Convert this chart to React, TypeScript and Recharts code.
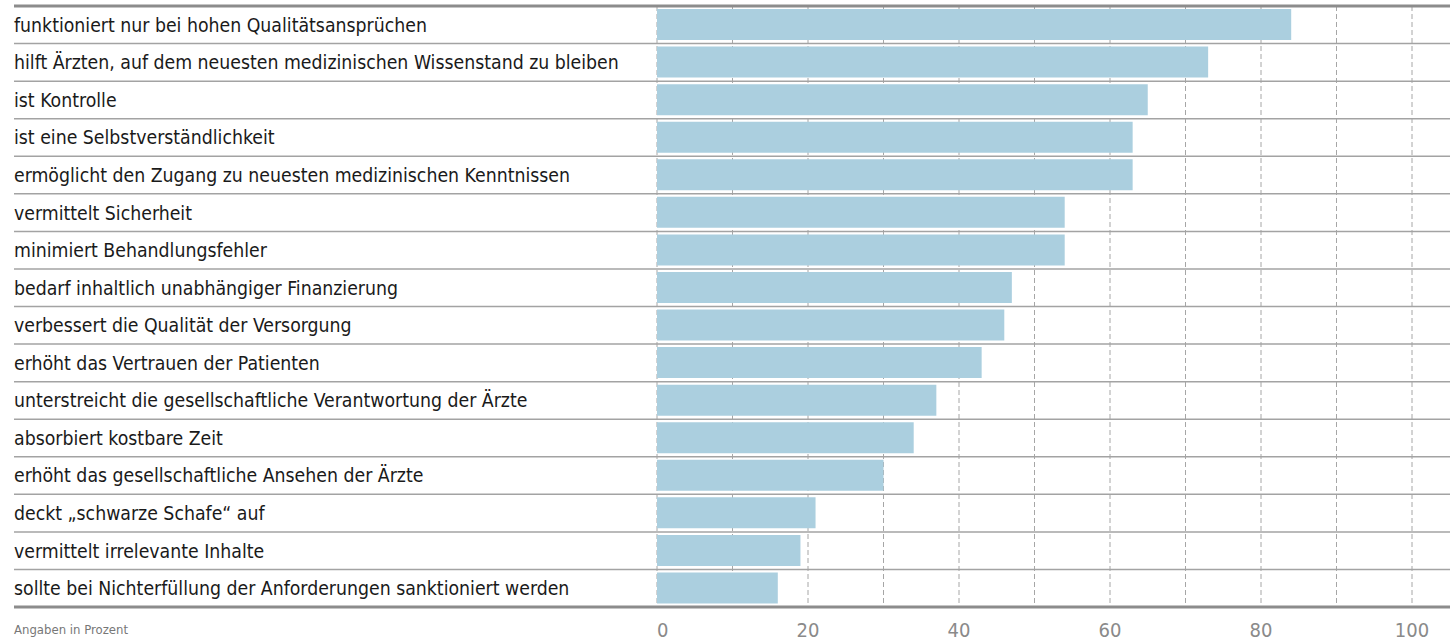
import { BarChart, Bar, XAxis, YAxis, CartesianGrid } from 'recharts';

const categories = [
  'funktioniert nur bei hohen Qualitätsansprüchen',
  'hilft Ärzten, auf dem neuesten medizinischen Wissenstand zu bleiben',
  'ist Kontrolle',
  'ist eine Selbstverständlichkeit',
  'ermöglicht den Zugang zu neuesten medizinischen Kenntnissen',
  'vermittelt Sicherheit',
  'minimiert Behandlungsfehler',
  'bedarf inhaltlich unabhängiger Finanzierung',
  'verbessert die Qualität der Versorgung',
  'erhöht das Vertrauen der Patienten',
  'unterstreicht die gesellschaftliche Verantwortung der Ärzte',
  'absorbiert kostbare Zeit',
  'erhöht das gesellschaftliche Ansehen der Ärzte',
  'deckt „schwarze Schafe“ auf',
  'vermittelt irrelevante Inhalte',
  'sollte bei Nichterfüllung der Anforderungen sanktioniert werden',
];
const values = [84, 73, 65, 63, 63, 54, 54, 47, 46, 43, 37, 34, 30, 21, 19, 16];
const gridTicks = [0, 10, 20, 30, 40, 50, 60, 70, 80, 90, 100];
const labelTicks = [0, 20, 40, 60, 80, 100];

const data = categories.map((label, i) => ({ label, value: values[i] }));

const W = 1450;
const H = 642;
const TOP = 6;
const AXIS_H = 35;
const LEFT = 657;
const RIGHT = 38;
const band = (H - TOP - AXIS_H) / categories.length;
const FONT = '"Liberation Sans Narrow", "DejaVu Sans Condensed", "Liberation Sans", sans-serif';

const RowTick = ({ y, payload, index }: any) => {
  const last = index === categories.length - 1;
  return (
    <g>
      {index === 0 && (
        <line x1={14} x2={W} y1={y - band / 2} y2={y - band / 2} stroke="#8c8c8c" strokeWidth={3} />
      )}
      <line
        x1={14}
        x2={W}
        y1={y + band / 2}
        y2={y + band / 2}
        stroke={last ? '#8c8c8c' : '#a3a3a3'}
        strokeWidth={last ? 3 : 1.5}
      />
      <text x={14} y={y} dy="0.36em" fontSize={19.3} fill="#1a1a1a" fontFamily={FONT}>
        {payload.value}
      </text>
    </g>
  );
};

const ValueTick = ({ x, payload }: any) => {
  if (!labelTicks.includes(payload.value)) return <g />;
  const first = payload.value === 0;
  return (
    <text
      x={x}
      y={637}
      textAnchor={first ? 'start' : 'middle'}
      fontSize={20}
      fill="#8a8a8a"
      fontFamily={FONT}
    >
      {payload.value}
    </text>
  );
};

export default function App() {
  return (
    <div style={{ position: 'absolute', left: 0, top: 0, width: W, height: H, background: '#fff' }}>
      <BarChart
        width={W}
        height={H}
        data={data}
        layout="vertical"
        margin={{ top: TOP, right: RIGHT, bottom: 0, left: 0 }}
      >
        <CartesianGrid horizontal={false} stroke="#a6a6a6" strokeDasharray="5 3" />
        <XAxis
          type="number"
          domain={[0, 100]}
          ticks={gridTicks}
          interval={0}
          height={AXIS_H}
          axisLine={false}
          tickLine={false}
          tick={<ValueTick />}
        />
        <YAxis
          type="category"
          dataKey="label"
          width={LEFT}
          axisLine={false}
          tickLine={false}
          interval={0}
          tick={<RowTick />}
        />
        <Bar dataKey="value" fill="#abcfdf" barSize={31} isAnimationActive={false} />
      </BarChart>
      <div
        style={{
          position: 'absolute',
          left: 14,
          top: 622,
          fontSize: 13,
          color: '#777',
          fontFamily: FONT,
        }}
      >
        Angaben in Prozent
      </div>
    </div>
  );
}
